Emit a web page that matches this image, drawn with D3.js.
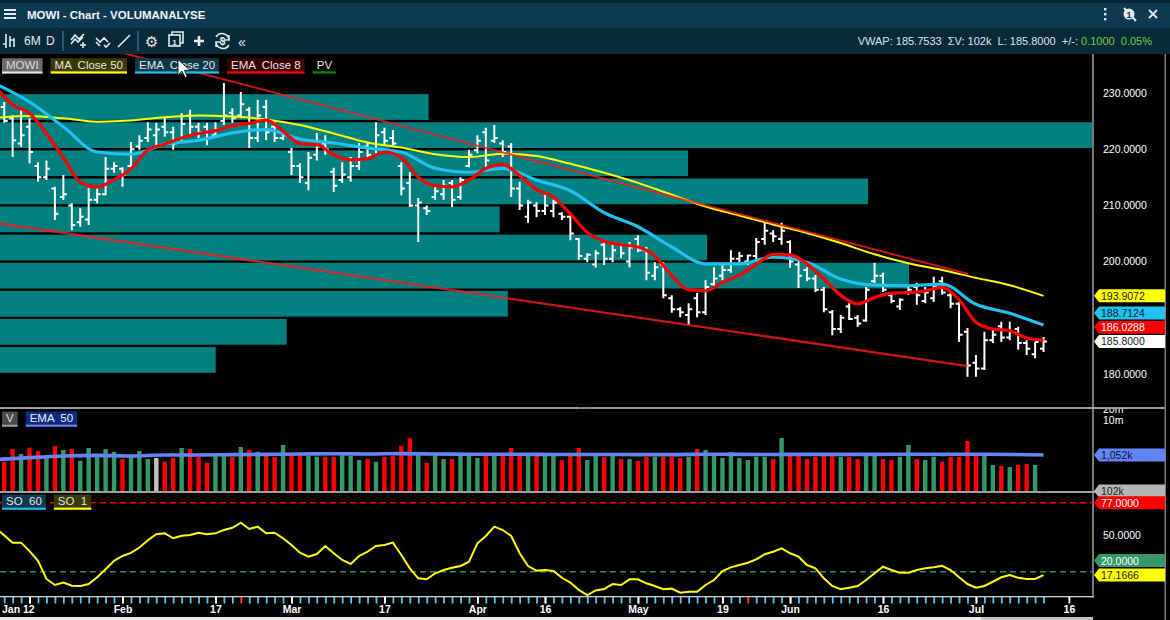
<!DOCTYPE html>
<html>
<head>
<meta charset="utf-8">
<script src="https://cdn.jsdelivr.net/npm/d3@7"></script>
<style>
  html, body { margin: 0; padding: 0; background: #000; overflow: hidden; }
  svg { display: block; font-family: "Liberation Sans", Arial, sans-serif; }
  text { white-space: pre; }
</style>
</head>
<body>
<div id="chart"></div>
<script>
/**
 * Chart data.
 * Bar index 0 = Jan 12, one index per trading day.
 */

const opens = [228, 227.5, 225.5, 221, 224, 217, 215, 213, 211.5, 210,
  207, 207.5, 211, 212, 216.5, 216.5, 217, 220.5, 222, 222.5,
  224, 223, 222, 226, 224, 224, 222.5, 225, 226.5, 226,
  227, 222, 227.5, 224, 222, 219.5, 217, 214, 219, 221,
  216, 214.5, 215, 217, 220.5, 220, 223, 222, 217, 214,
  210, 209.5, 211.5, 212, 214, 211.5, 217, 219.8, 223, 221.5,
  221, 220.5, 213, 208, 210, 209, 209, 208.5, 208, 204,
  200.5, 199.5, 203, 200.5, 203, 200, 204, 202, 197.5, 199.5,
  193.5, 191.5, 190.5, 193.5, 191, 196, 197.5, 198.5, 200.5, 200,
  201, 204, 205, 204, 203.5, 199.5, 198.5, 197, 195, 191,
  188, 192, 190, 189.5, 196.5, 197.5, 194, 192, 194.5, 195.5,
  193, 193.5, 196.5, 194, 192.5, 187.5, 182, 181, 186, 188.5,
  186.5, 188, 185.5, 183.5, 184.5];

const highs = [229, 228.4, 226, 227, 225.5, 217.7, 218, 213.3, 215.4, 210.4,
  209.5, 213.1, 213, 218.6, 217.7, 216.8, 221.3, 222.5, 224.8, 224.7,
  225.7, 224, 226.4, 227, 224.7, 224.7, 224.8, 231.8, 227.3, 230.2,
  227.5, 228.8, 228.8, 225.2, 223.4, 220.2, 217.5, 219.5, 222.9, 222.5,
  216.7, 217.7, 218.6, 221.1, 221.1, 224.8, 223.8, 223.4, 217.7, 215.9,
  211.3, 210, 213.6, 214.5, 214.5, 215, 219.9, 222.5, 223.8, 224.3,
  221.6, 221.1, 214.2, 211, 210.6, 211.9, 211, 208.8, 208.8, 204.2,
  201.5, 202, 203.5, 203.5, 203.3, 203.5, 204.7, 202.6, 199.9, 199.9,
  194, 191.9, 192.6, 194.4, 196.7, 199, 199.8, 202, 201.7, 201.2,
  204.2, 206.9, 205.6, 206.9, 203.8, 200.3, 199, 197.6, 195.5, 191.4,
  190.5, 192.6, 190.5, 195.5, 199.8, 198, 194.4, 193.5, 195.8, 196.2,
  195.5, 197.3, 197.3, 194.4, 192.8, 188.2, 183.4, 187.5, 188.2, 189.3,
  189.3, 188.4, 186, 185.7, 186.6];

const lows = [224, 224.7, 218.6, 220.4, 217.5, 214.2, 214.5, 207.4, 211, 205.6,
  206.2, 206.5, 210.4, 211.8, 215.8, 213.3, 216.3, 219.9, 221.3, 220.7,
  222.2, 219.9, 221.3, 222.5, 222, 220.7, 222, 224.3, 224.7, 225.5,
  220.2, 221.3, 221.6, 221.3, 221.6, 215.4, 214, 212.7, 218, 219,
  212.4, 214, 214.2, 216.3, 218.6, 219.3, 220.7, 220.7, 211.8, 209.7,
  203.5, 208.3, 211, 211, 209.7, 211, 216.8, 219.3, 216.8, 221.1,
  218.6, 211.5, 209.2, 206.9, 207.9, 208.3, 207.9, 207.4, 203.8, 200.3,
  199.9, 198.9, 199.4, 199.9, 200.6, 199, 201.7, 196.7, 196.7, 193.5,
  190.9, 190.1, 188.7, 190.1, 190.5, 195.5, 196.7, 198, 199.9, 199.4,
  200.3, 203, 203.5, 203, 198.9, 195.3, 196.5, 194.6, 191, 186.9,
  187.3, 189.6, 188.4, 189.3, 196.2, 194.6, 192.6, 191.4, 194.1, 192.3,
  192.6, 192.8, 194.1, 191.7, 185.7, 179.5, 179.5, 180.7, 185.5, 185.7,
  186, 184.3, 183.4, 182.8, 183.9];

const closes = [226, 225, 221.6, 222.5, 219.5, 215, 216.5, 208.5, 212, 206.5,
  208, 211, 212, 216.5, 217, 215.5, 220, 221.5, 223.5, 223.5,
  223, 221, 224.5, 224, 223, 222, 223.5, 226, 225.5, 228,
  222, 226, 223, 222, 222.5, 217, 215, 218.5, 220.5, 220,
  213.5, 215.5, 217, 219.5, 219, 222.5, 221.5, 221, 213, 210,
  210.5, 209, 212.5, 213.5, 211, 214.5, 219, 221.5, 218, 222,
  219.5, 213, 210, 210.5, 209, 210, 210.5, 208, 205, 201,
  201.2, 201.5, 200.5, 202, 201.5, 202.5, 202, 198, 199, 194,
  191.5, 191, 191.5, 191, 195.5, 197, 198.5, 200.5, 201, 201.1,
  203.5, 205.5, 204.5, 205.5, 200, 197.5, 197, 195, 191.5, 188,
  190, 189.8, 189, 195, 197.5, 195, 193, 193.2, 195, 194,
  194.5, 195.5, 194.5, 192.5, 187, 181.5, 181, 186, 187, 186.5,
  187.5, 185.5, 184.5, 185.7, 185.8];

// Volume per bar, in thousands of shares.
const volumes = [700, 680, 1550, 1120, 1700, 1350, 1050, 1890, 1460, 1550,
  720, 1660, 940, 1550, 1300, 810, 920, 1350, 810, 870,
  680, 880, 1660, 1550, 940, 640, 990, 990, 920, 1770,
  1460, 1300, 990, 920, 2020, 1050, 1050, 990, 940, 940,
  940, 1050, 990, 760, 810, 680, 940, 990, 1890, 3170,
  1100, 630, 1050, 810, 810, 1050, 1050, 870, 1050, 1050,
  1050, 1660, 1050, 1050, 1050, 1050, 1050, 760, 1050, 1660,
  760, 1050, 920, 1050, 810, 810, 710, 940, 940, 940,
  940, 870, 940, 1550, 1460, 1050, 870, 1280, 870, 760,
  940, 940, 810, 3170, 1050, 1050, 810, 940, 1050, 1050,
  940, 940, 810, 1050, 1050, 810, 760, 940, 2020, 810,
  760, 940, 670, 940, 940, 2610, 1050, 1050, 550, 516,
  484, 550, 590, 550, 102];

// Volume bar colour code per bar: G = up, R = down, N = unchanged.
const volumeDirs = ("RRRGRRGRGR" + "GGGGGRGGGN" + "RRGRRRGGRG" + "RGRRGRRGGR" +
  "RGGGRGRRRR" + "GRGGRGGGRG" + "RRRGRGGRRR" + "GGRGRGRRGR" +
  "RRGRGGGGGG" + "GGRGRRRRRR" + "GRRGGRRGGR" + "GGRRRRRGGR" + "GRRGG").split("");

// Indicator lines, sampled along the bars.
const ma50Step = 4;
const ma50Values = [225.6, 225.9, 225.5, 224.9, 225.1, 225.7, 226.0, 225.8, 225.3, 224.3,
  222.8, 221.2, 220.3, 219.1, 218.6, 219.2, 218.8, 217.4, 215.8, 214.0,
  211.9, 209.8, 208.2, 206.6, 205.1, 203.3, 201.3, 199.7, 198.5, 197.1,
  195.8, 193.9];

const ema20Step = 4;
const ema20Values = [231.6, 228.4, 224.0, 219.5, 219.1, 220.9, 221.6, 222.9, 223.5, 221.8,
  221.1, 220.2, 219.5, 216.6, 215.9, 216.6, 214.5, 212.6, 208.7, 206.2,
  202.6, 199.6, 199.6, 200.8, 199.9, 196.9, 195.8, 195.7, 196.0, 192.4,
  190.8, 188.7];

const ema8Step = 2;
const ema8Values = [231.0, 227.9, 226.4, 222.8, 218.5, 214.2, 213.3, 214.6, 216.5, 219.9,
  220.9, 222.0, 222.8, 223.3, 224.2, 224.6, 225.2, 223.2, 221.0, 220.8,
  219.0, 218.1, 218.3, 219.5, 218.5, 215.0, 213.5, 213.3, 214.5, 216.6,
  217.3, 215.3, 212.8, 211.5, 208.5, 205.2, 203.6, 203.0, 202.6, 201.0,
  197.5, 195.0, 194.8, 196.3, 197.6, 199.5, 201.3, 201.2, 199.6, 196.9,
  194.0, 192.5, 193.6, 194.4, 194.5, 194.8, 195.4, 193.2, 189.2, 188.0,
  187.7, 186.4, 186.0];

const volumeEmaStep = 4;
const volumeEmaValues = [780, 890, 990, 1030, 990, 1050, 1053, 1080, 1100, 1120,
  1146, 1125, 1150, 1120, 1110, 1110, 1100, 1090, 1090, 1080,
  1080, 1110, 1100, 1090, 1100, 1100, 1100, 1110, 1100, 1110,
  1090, 1052];

// Stochastic oscillator (SO 1), one value per bar.
const soValues = [56, 50, 44, 44, 37, 29, 14, 9, 11, 8.4,
  8.2, 9.8, 15.4, 22, 29, 33, 35.5, 40, 46, 50.9,
  51.7, 47.6, 49.7, 50.3, 52.2, 50.9, 51.7, 54.4, 56.3, 60.5,
  55.3, 57.2, 51.7, 52.2, 47.6, 42, 35.7, 32.4, 34.6, 41.2,
  35.2, 29.7, 26.4, 33, 36.5, 41.2, 42, 44, 33.8, 22.8,
  14.5, 13.7, 18.7, 21.4, 23.3, 24.7, 28.3, 43.5, 49.5, 57.2,
  54.4, 49.5, 35.2, 24.7, 20.8, 21.4, 20.6, 15, 11, 5,
  0.7, 4.5, 5.7, 9.8, 9, 13.7, 13.7, 10.4, 8.2, 5.5,
  6, 2.6, 3.5, 3.5, 9, 13.1, 20.6, 23.6, 25.5, 27.4,
  30.2, 34.4, 36.5, 39.3, 35.2, 32.4, 25.5, 22.8, 14.5, 8.2,
  5.5, 6.8, 8.2, 13.1, 18.7, 24.1, 21.4, 19.2, 19.2, 21.4,
  22.8, 23.6, 24.9, 21.4, 15.4, 9.8, 6.8, 8.2, 11.7, 15.4,
  17.3, 15, 14, 14, 17.17];
const soLevelUpper = 77;
const soLevelLower = 20;

// Price volume profile (PV): lower bound of each 5-unit price bin and volume (millions).
const pvBinSize = 5;
const pvLevels = [225, 220, 215, 210, 205, 200, 195, 190, 185, 180];
const pvVolumes = [15.7, 40.0, 25.2, 31.8, 18.3, 25.9, 33.3, 18.6, 10.5, 7.9];

// Trend lines as [bar index, price] pairs.
const trendUpper = [[10, 239.1], [115.1, 197.8]];
const trendLower = [[0, 206.9], [115, 181.4]];

// Date axis.
const firstDateLabel = "Jan 12";
const dateTickIdx = [4, 15, 26, 35, 46, 57, 65, 76, 86, 94, 105, 116, 127];
const dateTickLabels = ["", "Feb", "17", "Mar", "17", "Apr", "16", "May", "19", "Jun", "16", "Jul", "16"];
const markerIdx = [29, 89];

// Right axis ticks and last-value tags.
const priceTicks = [180, 190, 200, 210, 220, 230];
const volumeTicks = [10000, 20000];
const soTicks = [50];
const priceTagValues = [193.9072, 188.7124, 186.0288, 185.8];
const volumeTagValues = [1052, 102];
const soTagValues = [77, 20, 17.1666];

// Toolbar quote line.
const quoteText = "VWAP: 185.7533  \u03A3V: 102k  L: 185.8000  +/-: ";
const quoteChange = "0.1000  0.05%";

/**
 * Layout.
 */
const width = 1170;
const height = 620;
const axisX = 1093;
const rightEdge = 1165;
const pricePanel = { top: 54, bottom: 407 };
const volumePanel = { top: 409, bottom: 491 };
const soPanel = { top: 493, bottom: 596 };

const colors = {
  header: "#0d3a51",
  toolbar: "#092a3b",
  icon: "#e3eaf0",
  teal: "#008080",
  yellow: "#ffff00",
  cyan: "#1fc2f2",
  red: "#ff0000",
  green: "#339966",
  volBlue: "#6286f4",
  grid: "#a0a0a0",
  tickBlue: "#5ec3f2"
};

let svg = null;
let xScale = null;
let priceY = null;
let volumeY = null;
let soY = null;
let pvX = null;

/**
 * Helpers
 */

function sampled(values, step) {
  return values.map((v, k) => [k * step, v]);
}

function clipRect(id, top, bottom) {
  svg.append("clipPath").attr("id", id)
    .append("rect")
    .attr("x", 0).attr("y", top)
    .attr("width", axisX).attr("height", bottom - top);
}

function stackTags(ys, gap) {
  // push overlapping tags upward, starting from the lowest one
  const order = d3.range(ys.length).sort((a, b) => ys[b] - ys[a]);
  const out = ys.slice();
  let prev = Infinity;
  order.forEach((k) => {
    out[k] = Math.min(ys[k], prev - gap);
    prev = out[k];
  });
  return out;
}

function drawTag(g, y, label, fill, textColor) {
  g.append("path")
    .attr("d", `M${axisX + 1},${y}L${axisX + 6},${y - 6.5}H${rightEdge}V${y + 6.5}H${axisX + 6}Z`)
    .attr("fill", fill);
  g.append("text")
    .attr("x", axisX + 8)
    .attr("y", y + 4)
    .attr("fill", textColor)
    .style("font-size", "10.5px")
    .text(label);
}

function drawLegend(items, x0, y0) {
  const g = svg.append("g");
  let x = x0;
  items.forEach((it) => {
    const t = g.append("text")
      .attr("x", x + 4)
      .attr("y", y0 + 10.5)
      .attr("fill", it.text || "#e6e6e6")
      .style("font-size", "11.5px")
      .text(it.label);
    const w = t.node().getComputedTextLength() + 8;
    g.insert("rect", "text")
      .attr("x", x).attr("y", y0)
      .attr("width", w).attr("height", 13)
      .attr("fill", it.bg);
    g.append("rect")
      .attr("x", x).attr("y", y0 + 13)
      .attr("width", w).attr("height", 2.3)
      .attr("fill", it.line);
    x += w + 8;
  });
}

function styleAxis(g) {
  g.select(".domain").remove();
  g.selectAll("text")
    .attr("fill", "#ffffff")
    .style("font-size", "10.5px")
    .style("font-family", "'Liberation Sans', Arial, sans-serif");
}

function hideNearTags(g, scale, tagYs) {
  g.selectAll(".tick").each(function (d) {
    const y = scale(d);
    if (tagYs.some((ty) => Math.abs(ty - y) < 9)) d3.select(this).remove();
  });
}

/**
 * Initialization
 */

function initializeSvg() {
  svg = d3.select("#chart")
    .append("svg")
    .attr("width", width)
    .attr("height", height);
  svg.append("rect").attr("width", width).attr("height", height).attr("fill", "#000");
}

function initializeScales() {
  // one slot per trading day, 8.45 px apart; Jan 12 sits just off the left edge
  xScale = d3.scaleLinear().domain([0, 124]).range([-4.25, 1043.55]);
  priceY = d3.scaleLinear().domain([180, 230]).range([374, 93]);
  // volume panel is logarithmic (thousands of shares)
  volumeY = d3.scaleLog().domain([102, 10000]).range([491, 420.3]);
  soY = d3.scaleLinear().domain([0, soLevelUpper]).range([595.9, 502.7]);
  pvX = d3.scaleLinear().domain([0, d3.max(pvVolumes)]).range([0, axisX - 1]);
}

function initializeHeader() {
  svg.append("rect").attr("width", width).attr("height", 28).attr("fill", colors.header);
  svg.append("rect").attr("width", width).attr("height", 3).attr("fill", "#0a2636");
  [10, 14, 18].forEach((y) => {
    svg.append("rect").attr("x", 4).attr("y", y - 1).attr("width", 12).attr("height", 2).attr("fill", colors.icon);
  });
  svg.append("text")
    .attr("x", 27).attr("y", 19)
    .attr("fill", "#f2f5f8")
    .style("font-size", "11.5px").style("font-weight", "bold")
    .text("MOWI - Chart - VOLUMANALYSE");

  // window icons on the right
  [9, 14, 19].forEach((y) => {
    svg.append("rect").attr("x", 1104).attr("y", y - 1).attr("width", 2.4).attr("height", 2.4).attr("fill", colors.icon);
  });
  svg.append("circle").attr("cx", 1129).attr("cy", 14).attr("r", 5.5).attr("fill", colors.icon);
  svg.append("path").attr("d", "M1124,8L1136,21").attr("stroke", colors.icon).attr("stroke-width", 2);
  svg.append("text").attr("x", 1129).attr("y", 17.5).attr("text-anchor", "middle")
    .attr("fill", colors.header).style("font-size", "9px").style("font-weight", "bold").text("1");
  svg.append("path").attr("d", "M1149,10L1157,18M1157,10L1149,18")
    .attr("stroke", colors.icon).attr("stroke-width", 1.8);
}

function initializeToolbar() {
  svg.append("rect").attr("y", 28).attr("width", width).attr("height", 26).attr("fill", colors.toolbar);
  const g = svg.append("g").attr("stroke", colors.icon).attr("fill", "none").attr("stroke-width", 1.6);

  // bar-type icon
  g.append("path").attr("d", "M6,34V48M3,44H6M10,36V47M10,40H14M14,38V47");
  svg.append("text").attr("x", 24).attr("y", 45).attr("fill", colors.icon).style("font-size", "12px").text("6M");
  svg.append("text").attr("x", 46).attr("y", 45).attr("fill", colors.icon).style("font-size", "12px").text("D");
  g.append("path").attr("d", "M63,31V51M138,31V51").attr("stroke", "#2b6784");

  // indicator / drawing icons
  g.append("path").attr("d", "M71,44L75,39L78,42L83,37M71,40L75,35L79,39L84,34M80,45H86M83,42V48");
  g.append("path").attr("d", "M96,38L100,42L104,38L108,42M96,42L100,46M104,45L106,47L110,43");
  g.append("path").attr("d", "M118,47L130,35");

  // settings, layout, add, refresh, collapse
  svg.append("text").attr("x", 145).attr("y", 47).attr("fill", colors.icon).style("font-size", "15px")
    .style("font-family", "'DejaVu Sans', sans-serif").text("\u2699");
  g.append("rect").attr("x", 169).attr("y", 35).attr("width", 11).attr("height", 11);
  g.append("path").attr("d", "M172,35V32H183V43H180");
  svg.append("text").attr("x", 174.5).attr("y", 44.5).attr("text-anchor", "middle").attr("fill", colors.icon)
    .style("font-size", "8px").style("font-weight", "bold").text("1");
  g.append("path").attr("d", "M199,36V46M194,41H204").attr("stroke-width", 2.6);
  g.append("path").attr("d", "M216,37A7,7 0 0 1 229,40M229,45A7,7 0 0 1 216,42M229,35V40H224M216,47V42H221");
  svg.append("text").attr("x", 222.5).attr("y", 45).attr("text-anchor", "middle").attr("fill", colors.icon)
    .style("font-size", "10px").style("font-weight", "bold").text("$");
  svg.append("text").attr("x", 238).attr("y", 47).attr("fill", colors.icon).style("font-size", "14px").text("\u00AB");

  // quote line
  const q = svg.append("text")
    .attr("x", 1152).attr("y", 45)
    .attr("text-anchor", "end")
    .attr("fill", "#dde5eb")
    .style("font-size", "11px");
  q.append("tspan").text(quoteText);
  q.append("tspan").attr("fill", "#6fd23f").text(quoteChange);
}

function initializeFrame() {
  // panel separators, right axis line, right border
  svg.append("rect").attr("x", 0).attr("y", 407).attr("width", rightEdge).attr("height", 2).attr("fill", colors.grid);
  svg.append("rect").attr("x", 0).attr("y", 491).attr("width", rightEdge).attr("height", 2).attr("fill", colors.grid);
  svg.append("rect").attr("x", axisX - 0.75).attr("y", 54).attr("width", 1.5).attr("height", 544).attr("fill", colors.grid);
  svg.append("rect").attr("x", rightEdge - 0.5).attr("y", 54).attr("width", 1.5).attr("height", 566).attr("fill", "#7a7a7a");
  d3.range(5).forEach((k) => {
    svg.append("rect").attr("x", 579 + k * 2.6).attr("y", 407.3).attr("width", 1.3).attr("height", 1.3).attr("fill", "#606060");
  });
}

function initializePricePanel() {
  clipRect("clip-price", pricePanel.top, pricePanel.bottom);
  const g = svg.append("g").attr("clip-path", "url(#clip-price)");

  // PV volume profile
  g.selectAll("rect.pv")
    .data(pvLevels.map((lo, k) => ({ lo, v: pvVolumes[k] })))
    .enter().append("rect")
    .attr("class", "pv")
    .attr("x", 0)
    .attr("y", (d) => priceY(d.lo + pvBinSize) + 1.2)
    .attr("width", (d) => pvX(d.v))
    .attr("height", (d) => priceY(d.lo) - priceY(d.lo + pvBinSize) - 2.4)
    .attr("fill", colors.teal);

  // OHLC bars
  const bars = opens.map((o, i) => ({ i, o, h: highs[i], l: lows[i], c: closes[i] }));
  g.selectAll("path.bar")
    .data(bars)
    .enter().append("path")
    .attr("class", "bar")
    .attr("d", (d) => {
      const x = xScale(d.i);
      return `M${x},${priceY(d.h)}V${priceY(d.l)}` +
        `M${x - 3.5},${priceY(d.o)}H${x}` +
        `M${x},${priceY(d.c)}H${x + 3.5}`;
    })
    .attr("stroke", "#ffffff")
    .attr("stroke-width", 2)
    .attr("fill", "none");

  const line = d3.line()
    .x((d) => xScale(d[0]))
    .y((d) => priceY(d[1]))
    .curve(d3.curveMonotoneX);

  g.append("path").datum(sampled(ma50Values, ma50Step)).attr("d", line)
    .attr("fill", "none").attr("stroke", colors.yellow).attr("stroke-width", 2);
  g.append("path").datum(sampled(ema20Values, ema20Step)).attr("d", line)
    .attr("fill", "none").attr("stroke", colors.cyan).attr("stroke-width", 3.2);
  g.append("path").datum(sampled(ema8Values, ema8Step)).attr("d", line)
    .attr("fill", "none").attr("stroke", colors.red).attr("stroke-width", 3.2);

  // trend lines
  const straight = d3.line().x((d) => xScale(d[0])).y((d) => priceY(d[1]));
  [trendUpper, trendLower].forEach((t, k) => {
    g.append("path").datum(t).attr("d", straight)
      .attr("fill", "none").attr("stroke", "#ff1a1a")
      .attr("stroke-opacity", 0.8)
      .attr("stroke-width", k === 0 ? 2 : 2.4);
  });

  // right axis with last value tags
  const tagYs = stackTags(priceTagValues.map((v) => priceY(v)), 14.2);
  const axisG = svg.append("g")
    .attr("transform", `translate(${axisX},0)`)
    .call(d3.axisRight(priceY).tickValues(priceTicks).tickSize(0).tickPadding(10).tickFormat(d3.format(".4f")));
  styleAxis(axisG);
  hideNearTags(axisG, priceY, tagYs);

  const tagG = svg.append("g");
  const tagStyle = [
    [colors.yellow, "#1a1a1a"],
    [colors.cyan, "#0c1a26"],
    [colors.red, "#ffffff"],
    ["#ffffff", "#1a1a1a"]
  ];
  priceTagValues.forEach((v, k) => {
    drawTag(tagG, tagYs[k], d3.format(".4f")(v), tagStyle[k][0], tagStyle[k][1]);
  });

  drawLegend([
    { label: "MOWI", bg: "#6b6b6b", line: "#e8e8e8", text: "#dcdcdc" },
    { label: "MA  Close 50", bg: "#3b3b00", line: colors.yellow },
    { label: "EMA  Close 20", bg: "#0b3a4c", line: colors.cyan },
    { label: "EMA  Close 8", bg: "#3a0000", line: colors.red },
    { label: "PV", bg: "#000000", line: "#008a00" }
  ], 2, 58.3);

  // mouse pointer left on the legend
  svg.append("path")
    .attr("d", "M178,59.5V75L182,71.2L185,77.5L187.3,76.4L184.5,70.3H190Z")
    .attr("fill", "#ffffff").attr("stroke", "#000").attr("stroke-width", 0.8);
}

function initializeVolumePanel() {
  clipRect("clip-vol", volumePanel.top, volumePanel.bottom + 1);
  const g = svg.append("g").attr("clip-path", "url(#clip-vol)");
  const dirColor = { G: colors.green, R: colors.red, N: "#c4c4c4" };

  g.selectAll("rect.vol")
    .data(volumes.map((v, i) => ({ i, v, dir: volumeDirs[i] })))
    .enter().append("rect")
    .attr("class", "vol")
    .attr("x", (d) => xScale(d.i) - 2.2)
    .attr("width", 4.4)
    .attr("y", (d) => volumeY(d.v))
    .attr("height", (d) => Math.max(1, volumePanel.bottom - volumeY(d.v)))
    .attr("fill", (d) => dirColor[d.dir]);

  const line = d3.line()
    .x((d) => xScale(d[0]))
    .y((d) => volumeY(d[1]))
    .curve(d3.curveMonotoneX);
  g.append("path").datum(sampled(volumeEmaValues, volumeEmaStep)).attr("d", line)
    .attr("fill", "none").attr("stroke", colors.volBlue).attr("stroke-width", 3.6);

  // axis labels, cut by the separator like the original
  svg.append("clipPath").attr("id", "clip-vol-axis")
    .append("rect").attr("x", axisX).attr("y", 409).attr("width", 80).attr("height", 82);
  const axisG = svg.append("g")
    .attr("clip-path", "url(#clip-vol-axis)")
    .append("g")
    .attr("transform", `translate(${axisX},0)`)
    .call(d3.axisRight(volumeY).tickValues(volumeTicks).tickSize(0).tickPadding(10)
      .tickFormat((d) => `${d / 1000}m`));
  styleAxis(axisG);

  const tagG = svg.append("g");
  const tagStyle = [[colors.volBlue, "#0b1240"], ["#b5b5b5", "#1e1e1e"]];
  volumeTagValues.forEach((v, k) => {
    drawTag(tagG, volumeY(v), `${d3.format(",")(v)}k`, tagStyle[k][0], tagStyle[k][1]);
  });

  drawLegend([
    { label: "V", bg: "#4a4a4a", line: "#9c9c9c", text: "#e0e0e0" },
    { label: "EMA  50", bg: "#0c2a84", line: colors.volBlue, text: "#f0f0f0" }
  ], 2, 411.5);
}

function initializeSoPanel() {
  clipRect("clip-so", soPanel.top, soPanel.bottom);
  const g = svg.append("g").attr("clip-path", "url(#clip-so)");

  [[soLevelUpper, colors.red], [soLevelLower, "#2e9160"]].forEach(([lvl, c]) => {
    g.append("line")
      .attr("x1", 0).attr("x2", axisX)
      .attr("y1", soY(lvl)).attr("y2", soY(lvl))
      .attr("stroke", c).attr("stroke-width", 1.6)
      .attr("stroke-dasharray", "6,4");
  });

  const line = d3.line()
    .x((d, i) => xScale(i))
    .y((d) => soY(d));
  g.append("path").datum(soValues).attr("d", line)
    .attr("fill", "none").attr("stroke", colors.yellow).attr("stroke-width", 2);

  const tagYs = stackTags(soTagValues.map((v) => soY(v)), 14.5);
  const axisG = svg.append("g")
    .attr("transform", `translate(${axisX},0)`)
    .call(d3.axisRight(soY).tickValues(soTicks).tickSize(0).tickPadding(10).tickFormat(d3.format(".4f")));
  styleAxis(axisG);
  hideNearTags(axisG, soY, tagYs);

  const tagG = svg.append("g");
  const tagStyle = [[colors.red, "#ffffff"], [colors.green, "#ffffff"], [colors.yellow, "#1a1a1a"]];
  soTagValues.forEach((v, k) => {
    drawTag(tagG, tagYs[k], d3.format(".4f")(v), tagStyle[k][0], tagStyle[k][1]);
  });

  drawLegend([
    { label: "SO  60", bg: "#0b3a4e", line: "#29b3ee", text: "#e6e6e6" },
    { label: "SO  1", bg: "#3a3a06", line: colors.yellow, text: "#e6e6e6" }
  ], 2, 494.5);
}

function initializeDateAxis() {
  svg.append("rect").attr("x", 0).attr("y", 596).attr("width", axisX).attr("height", 1.3).attr("fill", "#d0d0d0");

  // small tick for every bar
  const barTicks = svg.append("g")
    .attr("transform", "translate(0,597)")
    .call(d3.axisBottom(xScale).tickValues(d3.range(opens.length)).tickSize(6.5).tickFormat(""));
  barTicks.select(".domain").remove();
  barTicks.selectAll("line")
    .attr("stroke", (d) => (markerIdx.includes(d) ? "#ff4040" : colors.tickBlue))
    .attr("stroke-width", 1.8);

  // labelled ticks
  const labelTicks = svg.append("g")
    .attr("transform", "translate(0,597)")
    .call(d3.axisBottom(xScale).tickValues(dateTickIdx).tickSize(6.5).tickPadding(2)
      .tickFormat((d, k) => dateTickLabels[k]));
  labelTicks.select(".domain").remove();
  labelTicks.selectAll("line").attr("stroke", "#ffffff").attr("stroke-width", 1.8);
  labelTicks.selectAll("text")
    .attr("fill", "#ffffff")
    .style("font-size", "10.5px").style("font-weight", "bold")
    .style("font-family", "'Liberation Sans', Arial, sans-serif");

  svg.append("text")
    .attr("x", 2).attr("y", 613)
    .attr("fill", "#ffffff")
    .style("font-size", "10.5px").style("font-weight", "bold")
    .text(firstDateLabel);

  // horizontal scrollbar
  svg.append("rect").attr("x", 0).attr("y", 617).attr("width", 981).attr("height", 3).attr("fill", "#e8e8e8");
  svg.append("rect").attr("x", 981).attr("y", 617).attr("width", axisX - 981).attr("height", 3).attr("fill", "#c4c4c4");
}

function initialize() {
  initializeSvg();
  initializeScales();
  initializeHeader();
  initializeToolbar();
  initializeFrame();
  initializePricePanel();
  initializeVolumePanel();
  initializeSoPanel();
  initializeDateAxis();
}

initialize();
</script>
</body>
</html>
